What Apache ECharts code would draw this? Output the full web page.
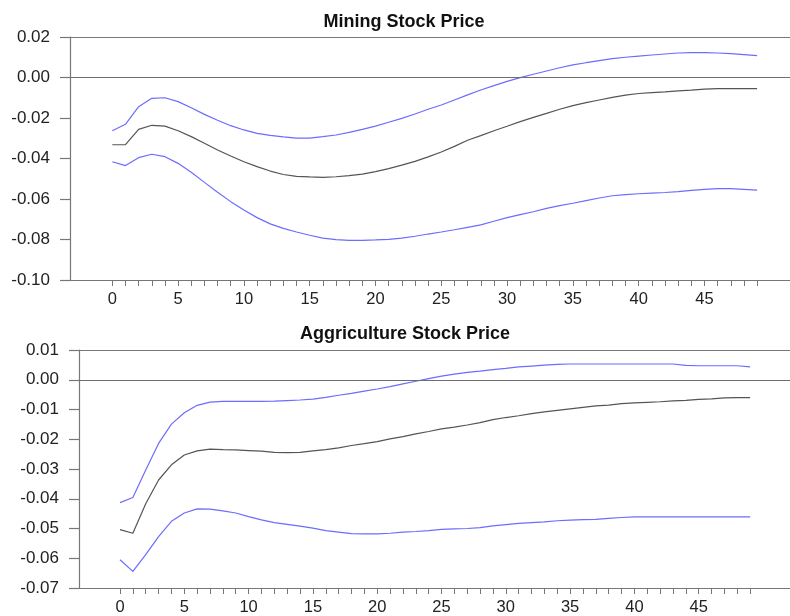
<!DOCTYPE html>
<html>
<head>
<meta charset="utf-8">
<script src="https://cdn.jsdelivr.net/npm/echarts@6/dist/echarts.min.js"></script>
<style>
html,body{margin:0;padding:0;background:#fff;}
#c{width:790px;height:616px;}
</style>
</head>
<body>
<div id="c"></div>
<script>
// Horizon (periods)
const periods = Array.from({length: 50}, (_, i) => i);
const xTickValues = periods;
const xLabelValues = [0, 5, 10, 15, 20, 25, 30, 35, 40, 45];

// Mining Stock Price: response and bands
const miningMid = [-0.0332, -0.0332, -0.0256, -0.0236, -0.0240, -0.0263, -0.0292, -0.0325, -0.0358, -0.0388,
  -0.0416, -0.0440, -0.0462, -0.0479, -0.0488, -0.0491, -0.0493, -0.0490, -0.0485, -0.0477,
  -0.0465, -0.0450, -0.0433, -0.0414, -0.0392, -0.0368, -0.0340, -0.0310, -0.0287, -0.0263,
  -0.0241, -0.0218, -0.0197, -0.0177, -0.0157, -0.0139, -0.0124, -0.0111, -0.0098, -0.0087,
  -0.0079, -0.0075, -0.0071, -0.0066, -0.0062, -0.0057, -0.0055, -0.0055, -0.0055, -0.0055];
const miningUpper = [-0.0263, -0.0231, -0.0144, -0.0103, -0.0100, -0.0119, -0.0149, -0.0182, -0.0211, -0.0238,
  -0.0259, -0.0276, -0.0286, -0.0293, -0.0299, -0.0299, -0.0292, -0.0284, -0.0271, -0.0256,
  -0.0240, -0.0221, -0.0202, -0.0180, -0.0157, -0.0136, -0.0111, -0.0086, -0.0062, -0.0040,
  -0.0019, -0.0001, 0.0016, 0.0032, 0.0048, 0.0062, 0.0073, 0.0083, 0.0093, 0.0100,
  0.0106, 0.0111, 0.0116, 0.0121, 0.0123, 0.0123, 0.0121, 0.0118, 0.0113, 0.0108];
const miningLower = [-0.0416, -0.0435, -0.0396, -0.0379, -0.0391, -0.0424, -0.0468, -0.0518, -0.0567, -0.0613,
  -0.0654, -0.0692, -0.0723, -0.0745, -0.0763, -0.0779, -0.0793, -0.0801, -0.0804, -0.0804,
  -0.0802, -0.0799, -0.0793, -0.0784, -0.0773, -0.0763, -0.0752, -0.0740, -0.0728, -0.0710,
  -0.0692, -0.0677, -0.0663, -0.0646, -0.0633, -0.0621, -0.0608, -0.0595, -0.0584, -0.0578,
  -0.0574, -0.0571, -0.0568, -0.0564, -0.0557, -0.0552, -0.0549, -0.0549, -0.0552, -0.0556];

// Aggriculture Stock Price: response and bands
const agriMid = [-0.0504, -0.0516, -0.0417, -0.0337, -0.0286, -0.0253, -0.0239, -0.0233, -0.0235, -0.0236,
  -0.0238, -0.0240, -0.0244, -0.0245, -0.0244, -0.0239, -0.0235, -0.0229, -0.0221, -0.0215,
  -0.0208, -0.0199, -0.0191, -0.0182, -0.0174, -0.0165, -0.0159, -0.0152, -0.0144, -0.0134,
  -0.0127, -0.0121, -0.0114, -0.0108, -0.0103, -0.0098, -0.0093, -0.0088, -0.0085, -0.0080,
  -0.0078, -0.0076, -0.0074, -0.0071, -0.0069, -0.0066, -0.0064, -0.0061, -0.0060, -0.0060];
const agriUpper = [-0.0413, -0.0396, -0.0303, -0.0214, -0.0149, -0.0111, -0.0086, -0.0075, -0.0073, -0.0073,
  -0.0073, -0.0073, -0.0072, -0.0070, -0.0068, -0.0065, -0.0059, -0.0052, -0.0046, -0.0038,
  -0.0031, -0.0023, -0.0014, -0.0005, 0.0004, 0.0012, 0.0019, 0.0025, 0.0029, 0.0034,
  0.0038, 0.0043, 0.0046, 0.0049, 0.0052, 0.0053, 0.0053, 0.0053, 0.0053, 0.0053,
  0.0053, 0.0053, 0.0053, 0.0053, 0.0048, 0.0047, 0.0047, 0.0047, 0.0047, 0.0043];
const agriLower = [-0.0605, -0.0644, -0.0588, -0.0527, -0.0476, -0.0448, -0.0434, -0.0435, -0.0441, -0.0448,
  -0.0460, -0.0471, -0.0480, -0.0486, -0.0492, -0.0499, -0.0507, -0.0512, -0.0517, -0.0518,
  -0.0518, -0.0516, -0.0512, -0.0510, -0.0507, -0.0503, -0.0501, -0.0500, -0.0497, -0.0491,
  -0.0487, -0.0483, -0.0480, -0.0478, -0.0474, -0.0472, -0.0470, -0.0469, -0.0466, -0.0463,
  -0.0461, -0.0461, -0.0461, -0.0461, -0.0461, -0.0461, -0.0461, -0.0461, -0.0461, -0.0461];

const titles = ['Mining Stock Price', 'Aggriculture Stock Price'];

const FONT = '"Liberation Sans", Arial, sans-serif';
const AXIS_COLOR = '#777777';
const TEXT_COLOR = '#222';
const BLUE = '#6c6cff';
const MID = '#555555';

function pairs(arr) { return periods.map((t, i) => [t, arr[i]]); }
function fmt(v) { if (Math.abs(v) < 1e-9) v = 0; return v.toFixed(2); }

const grids = [
  {left: 70, top: 37, width: 720, height: 243},
  {left: 79, top: 350, width: 711, height: 239}
];
const xRanges = [[-3.214, 51.5], [-3.188, 52.1]];
const yRanges = [[-0.10, 0.02, 0.02], [-0.07, 0.01, 0.01]];

const xAxes = [], yAxes = [], series = [];
[0, 1].forEach(g => {
  xAxes.push({
    gridIndex: g, type: 'value', position: 'bottom',
    min: xRanges[g][0], max: xRanges[g][1],
    axisLine: {show: true, onZero: false, lineStyle: {color: AXIS_COLOR, width: 1.2}},
    axisTick: {show: true, customValues: xTickValues, length: 6, lineStyle: {color: AXIS_COLOR}},
    axisLabel: {customValues: xLabelValues, margin: 11, fontSize: 16.5, fontFamily: FONT, color: TEXT_COLOR,
      formatter: v => String(Math.round(v))},
    splitLine: {show: false}
  });
  xAxes.push({
    gridIndex: g, type: 'value', position: 'top',
    min: xRanges[g][0], max: xRanges[g][1],
    axisLine: {show: true, onZero: false, lineStyle: {color: AXIS_COLOR, width: 1.2}},
    axisTick: {show: false}, axisLabel: {show: false}, splitLine: {show: false}
  });
  yAxes.push({
    gridIndex: g, type: 'value',
    min: yRanges[g][0], max: yRanges[g][1], interval: yRanges[g][2],
    axisLine: {show: true, onZero: false, lineStyle: {color: AXIS_COLOR, width: 1.2}},
    axisTick: {show: true, length: 10, lineStyle: {color: AXIS_COLOR, width: 1.2}},
    axisLabel: {margin: 20, fontSize: 17, fontFamily: FONT, color: TEXT_COLOR, formatter: fmt},
    splitLine: {show: false}
  });
});

const sets = [[miningUpper, miningMid, miningLower], [agriUpper, agriMid, agriLower]];
sets.forEach((s, g) => {
  s.forEach((arr, k) => {
    const ser = {
      type: 'line', xAxisIndex: g * 2, yAxisIndex: g,
      data: pairs(arr), symbol: 'none', showSymbol: false, silent: true,
      lineStyle: {color: k === 1 ? MID : BLUE, width: 1.2},
      itemStyle: {color: k === 1 ? MID : BLUE},
      animation: false, z: k === 1 ? 3 : 2
    };
    if (k === 1) {
      ser.markLine = {
        silent: true, symbol: ['none', 'none'], label: {show: false},
        lineStyle: {color: '#6e6e6e', width: 1.2, type: 'solid'},
        data: [{yAxis: 0}], animation: false
      };
    }
    series.push(ser);
  });
});

const chart = echarts.init(document.getElementById('c'), null, {renderer: 'canvas'});
chart.setOption({
  backgroundColor: '#fff',
  animation: false,
  grid: grids,
  xAxis: xAxes,
  yAxis: yAxes,
  series: series,
  graphic: [
    {type: 'text', x: 404, y: 22, style: {text: titles[0], font: 'bold 18px ' + FONT, fill: '#111', align: 'center', verticalAlign: 'middle'}},
    {type: 'text', x: 405, y: 334, style: {text: titles[1], font: 'bold 18px ' + FONT, fill: '#111', align: 'center', verticalAlign: 'middle'}}
  ]
});
</script>
</body>
</html>
